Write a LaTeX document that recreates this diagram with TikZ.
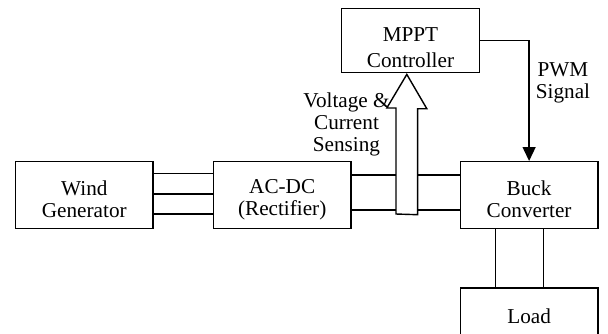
\documentclass[tikz,border=0pt]{standalone}
\usepackage{fontspec}
\setmainfont{Liberation Serif}
\usetikzlibrary{arrows.meta, positioning, calc}
\tikzset{
  blk/.style={
    rectangle, draw=black, line width=0.7pt,
    minimum width=68.75pt, minimum height=33.3pt,
    align=center, inner sep=1pt, text height=22.5pt,
    font=\fontsize{10.6}{11}\selectfont
  },
  lbl/.style={
    align=center, inner sep=0pt,
    font=\fontsize{10.6}{11}\selectfont
  },
  wire/.style={
    line width=0.7pt, draw=black
  },
  sig arrow/.style={
    wire, -{Triangle[length=7pt,width=6.5pt]}
  },
  hollow arrow/.style={
    line width=0.7pt, draw=black, fill=white
  }
}
\begin{document}
\begin{tikzpicture}[x=0.5pt, y=-0.5pt, node distance=29.2pt and 29.5pt]
  \useasboundingbox (0,0) rectangle (608,333);

  \node (wind) [blk] at (84.3,195) {Wind\\Generator};
  \node (acdc) [blk, right=of wind] {AC-DC\\(Rectifier)};
  \node (buck) [blk, right=54pt of acdc] {Buck\\Converter};
  \node (load) [blk, below=of buck, anchor=north, minimum height=28.5pt, text height=6.5pt] {Load};
  \node (mppt) [blk, minimum height=32.2pt, text height=27.5pt] at (410.5,40.5) {MPPT\\[2pt]Controller};

  \node (sensing) [lbl] at (346.5,124) {Voltage \&\\Current\\Sensing};
  \node (pwm) [lbl] at (563,83) {PWM\\Signal};

  % three-phase link
  \draw [wire] (wind.east |- 0,173.5) -- (acdc.west |- 0,173.5);
  \draw [wire] (wind.east |- 0,194) -- (acdc.west |- 0,194);
  \draw [wire] (wind.east |- 0,214) -- (acdc.west |- 0,214);

  % dc link
  \draw [wire] (acdc.east |- 0,175) -- (buck.west |- 0,175);
  \draw [wire] (acdc.east |- 0,210) -- (buck.west |- 0,210);

  % sensing arrow
  \coordinate (sense) at (406.8,214);
  \draw [hollow arrow] (sense) ++(-10.8,0) -- ++(0,-106) -- ++(-9.2,0)
    -- ($(sense |- mppt.south)+(0,1)$) -- ++(20,34.3) -- ++(-9.2,0)
    -- ++(0,106) -- cycle;

  % pwm
  \draw [sig arrow] (mppt.east) -| (buck.north);

  % output
  \draw [wire] (buck.south -| 495.7,0) -- (load.north -| 495.7,0);
  \draw [wire] (buck.south -| 543.3,0) -- (load.north -| 543.3,0);
\end{tikzpicture}
\end{document}
